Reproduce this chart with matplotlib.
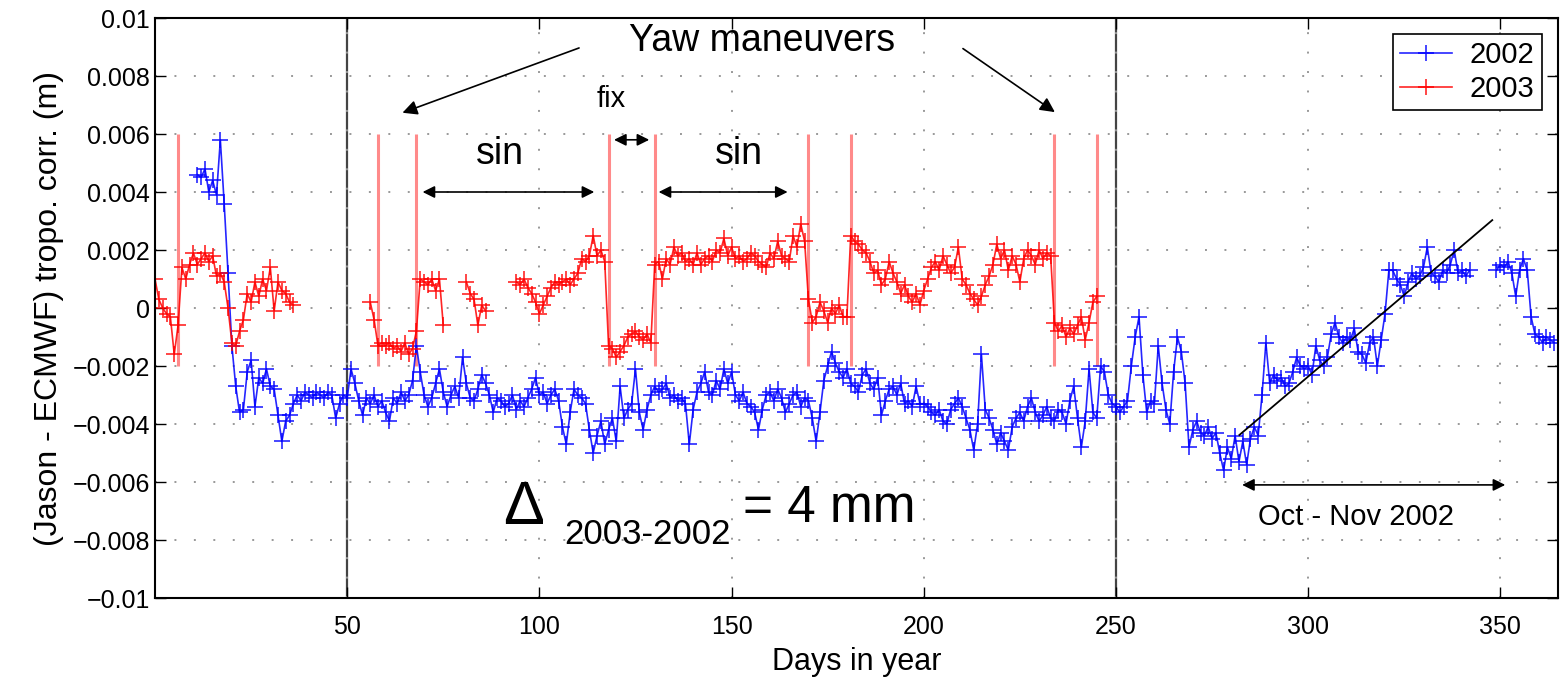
import numpy as np
import matplotlib.pyplot as plt

plt.rcParams['font.family'] = ['Liberation Sans', 'DejaVu Sans']

nan = np.nan

# 2002 series (days 11..364), values in mm
days_2002 = np.arange(11, 365)
vals_2002_mm = [
    4.6, 4.5, 4.8, 4.0, 4.4, 3.9, 5.8, 3.6, 1.2, -1.3,
    -2.7, -3.6, -3.5, -2.2, -1.8, -3.4, -2.4, -2.6, -2.1, -2.7,
    -2.8, -3.7, -4.6, -3.9, -3.7, -3.3, -3.0, -3.2, -2.9, -3.0,
    -3.1, -2.9, -3.0, -3.1, -2.9, -3.0, -3.8, -3.3, -3.0, -3.1,
    -2.1, -2.6, -3.2, -3.7, -3.1, -3.3, -3.0, -3.4, -3.2, -3.6,
    -3.9, -3.1, -3.3, -2.9, -3.2, -3.0, -2.5, -1.3, -2.2, -3.0,
    -3.4, -3.1, -2.6, -2.1, -2.9, -3.4, -3.0, -2.7, -3.1, -1.7,
    -2.6, -3.1, -3.2, -2.8, -2.3, -2.6, -3.0, -3.6, -3.1, -3.2,
    -3.4, -3.3, -3.0, -3.5, -3.2, -3.4, -3.1, -2.8, -2.4, -3.0,
    -2.9, -3.3, -3.0, -2.8, -3.2, -4.1, -4.7, -3.6, -2.8, -3.0,
    -3.1, -3.3, -4.2, -5.0, -4.4, -3.9, -4.7, -4.2, -3.8, -4.6,
    -2.7, -3.8, -3.5, -3.3, -2.1, -3.6, -4.2, -3.5, -3.0, -2.7,
    -2.9, -2.8, -2.6, -3.1, -3.0, -3.2, -3.1, -3.3, -4.7, -3.5,
    -2.9, -2.6, -2.2, -2.9, -3.0, -2.5, -2.8, -2.1, -2.6, -2.2,
    -3.0, -3.2, -2.9, -3.3, -3.4, -3.6, -4.2, -3.5, -3.0, -2.9,
    -3.2, -2.8, -3.1, -3.6, -3.3, -3.0, -2.9, -3.4, -3.1, -3.2,
    -3.8, -4.6, -3.6, -2.5, -2.0, -1.5, -1.9, -2.2, -2.4, -2.1,
    -2.6, -2.7, -2.9, -2.3, -2.1, -2.6, -2.8, -2.4, -3.7, -3.2,
    -2.8, -2.7, -3.0, -2.6, -3.3, -3.2, -3.4, -2.7, -3.3, -3.3,
    -3.4, -3.6, -3.7, -3.5, -3.9, -4.0, -3.5, -3.3, -3.1, -3.4,
    -3.8, -4.2, -4.9, -4.0, -1.6, -3.5, -3.8, -4.2, -4.7, -4.3,
    -4.6, -4.9, -4.1, -3.8, -3.6, -3.9, -3.4, -3.1, -3.6, -3.9,
    -3.7, -3.4, -3.8, -3.9, -3.5, -3.6, -4.0, -3.2, -2.7, -3.8,
    -4.8, -3.9, -2.1, -3.6, -3.8, -2.0, -2.2, -3.0, -3.3, -3.4,
    -3.6, -3.4, -3.2, -2.0, -1.0, -0.3, -2.3, -3.6, -3.2, -3.3,
    -1.3, -2.6, -3.5, -4.0, -2.2, -1.0, -1.5, -2.6, -4.8, -4.2,
    -3.9, -4.3, -4.4, -4.1, -4.5, -4.3, -5.0, -5.6, -4.8, -5.2,
    -4.4, -5.3, -4.6, -5.4, -4.5, -4.1, -4.4, -3.0, -1.2, -2.6,
    -2.3, -2.5, -2.4, -2.7, -2.6, -2.2, -1.7, -2.0, -2.1, -2.0,
    -2.3, -1.3, -1.8, -2.0, -1.7, -0.9, -0.5, -1.0, -1.2, -1.0,
    -1.1, -0.7, -1.5, -1.6, -1.9, -1.2, -1.0, -2.0, -1.1, -0.2,
    1.3, 1.3, 1.0, 0.8, 0.4, 0.9, 1.2, 1.0, 1.1, 1.4,
    2.1, 1.2, 1.1, 0.9, 1.3, 1.2, 1.5, 2.0, 1.2, 1.3,
    1.1, 1.3, nan, nan, nan, nan, nan, nan, 1.3, 1.5,
    1.4, 1.6, 1.2, 0.4, 1.3, 1.7, 1.3, -0.3, -0.9, -1.0,
    -1.2, -1.0, -1.1, -1.2,
]

# 2003 series (days 0..245), values in mm
days_2003 = np.arange(0, 246)
vals_2003_mm = [
    1.0, 0.3, 0.0, -0.2, -0.3, -1.6, -0.6, 1.4, 1.0, 1.5,
    1.9, 1.5, 1.7, 1.9, 1.6, 1.8, 1.1, 1.2, 0.9, 0.0,
    -1.2, -1.3, -0.8, -0.4, 0.5, 0.2, 0.9, 0.4, 1.0, 0.6,
    1.4, -0.1, 0.9, 0.6, 0.5, 0.2, 0.1, nan, nan, nan,
    nan, nan, nan, nan, nan, nan, nan, nan, nan, nan,
    nan, nan, nan, nan, nan, nan, 0.2, -0.4, -1.3, -1.2,
    -1.3, -1.2, -1.4, -1.3, -1.5, -1.2, -1.6, -1.4, -0.8, 1.0,
    0.9, 0.8, 1.0, 0.6, 1.0, -0.6, nan, nan, nan, nan,
    nan, 0.9, 0.5, 0.3, -0.6, 0.1, -0.1, nan, nan, nan,
    nan, nan, nan, nan, 0.9, 0.8, 1.0, 0.7, 0.5, 0.2,
    -0.2, 0.1, 0.4, 0.7, 0.9, 0.8, 0.9, 1.0, 0.8, 1.0,
    1.2, 1.7, 1.6, 1.8, 2.5, 1.8, 2.0, 1.6, -1.3, -1.4,
    -1.7, -1.5, -1.3, -1.0, -0.9, -0.8, -1.0, -1.1, -0.9, -1.2,
    1.5, 1.6, 1.0, 1.7, 1.5, 2.1, 1.8, 1.9, 1.6, 1.7,
    1.5, 1.9, 1.5, 1.7, 1.8, 1.6, 2.0, 1.9, 2.4, 1.8,
    2.1, 1.7, 1.8, 1.6, 1.7, 1.9, 1.8, 1.6, 1.5, 1.4,
    1.9, 1.7, 2.3, 1.8, 1.7, 1.6, 2.5, 2.1, 2.9, 2.3,
    0.3, -0.5, -0.3, 0.2, -0.1, -0.5, 0.0, -0.2, 0.1, -0.3,
    -0.3, 2.5, 2.3, 2.2, 2.0, 1.9, 1.6, 1.2, 1.3, 0.8,
    1.0, 1.6, 1.2, 0.9, 0.5, 0.8, 0.4, 0.2, 0.5, 0.1,
    0.6, 1.0, 1.4, 1.6, 1.3, 1.8, 1.5, 1.2, 1.4, 2.1,
    1.0, 0.8, 0.5, 0.3, 0.1, 0.4, 0.8, 1.1, 1.5, 2.2,
    1.7, 2.0, 1.3, 1.8, 1.5, 0.9, 1.7, 2.0, 1.8, 1.5,
    2.0, 1.7, 1.9, 1.8, -0.5, -0.8, -0.6, -1.0, -0.7, -0.9,
    -0.6, -0.3, -1.1, -0.5, 0.2, 0.4,
]

# yaw maneuver days in 2003 (drawn as vertical red lines)
yaw_days = [6, 58, 68, 118, 130, 170, 181, 234, 245]
year_marks = [50, 250]

y_ticks = [-0.01, -0.008, -0.006, -0.004, -0.002, 0, 0.002, 0.004, 0.006, 0.008, 0.01]
y_ticklabels = ['\u22120.01', '\u22120.008', '\u22120.006', '\u22120.004', '\u22120.002',
                '0', '0.002', '0.004', '0.006', '0.008', '0.01']
x_ticks = [50, 100, 150, 200, 250, 300, 350]

vals_2002 = np.array(vals_2002_mm) * 1e-3
vals_2003 = np.array(vals_2003_mm) * 1e-3

fig = plt.figure(figsize=(15.63, 6.86), dpi=100)
ax = fig.add_axes([155 / 1563, 88 / 686, 1403 / 1563, 580 / 686])

ax.plot(days_2002, vals_2002, color='#0000ff', lw=1.2, marker='+', ms=12, mew=1.2,
        label='2002', alpha=0.85)
ax.plot(days_2003, vals_2003, color='#ff0000', lw=1.2, marker='+', ms=12, mew=1.2,
        label='2003', alpha=0.85)
ax.vlines(yaw_days, -0.002, 0.006, color='#ff8a8a', lw=2.2, zorder=1)
for d in year_marks:
    ax.axvline(d, color='#444444', lw=1.6, zorder=0.5)

ax.set_xlim(0, 365)
ax.set_ylim(-0.01, 0.01)
ax.set_xticks(x_ticks)
ax.set_yticks(y_ticks)
ax.set_yticklabels(y_ticklabels)
ax.tick_params(direction='in', top=True, right=True, length=8, width=1, labelsize=18)
ax.tick_params(axis='x', pad=12)
ax.grid(True, linestyle=(0, (1, 9)), color='#999999', lw=1.4)
for s in ax.spines.values():
    s.set_linewidth(1.5)

ax.set_xlabel('Days in year', fontsize=22, labelpad=6)
ax.set_ylabel('(Jason - ECMWF) tropo. corr. (m)', fontsize=23, labelpad=6)

leg = ax.legend(loc='upper right', fontsize=21, fancybox=False, edgecolor='black',
                framealpha=1, borderaxespad=0.55, handlelength=1.8, handletextpad=0.6,
                labelspacing=0.2, borderpad=0.25)
leg.get_frame().set_linewidth(1.2)

# annotations
ax.text(158, 0.0092, 'Yaw maneuvers', fontsize=27, ha='center', va='center')
ax.annotate('', xy=(63.7, 0.0067), xytext=(111, 0.0090),
            arrowprops=dict(arrowstyle='-|>', color='black', lw=1.2, mutation_scale=22))
ax.annotate('', xy=(234.7, 0.0067), xytext=(209.6, 0.0090),
            arrowprops=dict(arrowstyle='-|>', color='black', lw=1.2, mutation_scale=22))

ax.text(118.6, 0.0072, 'fix', fontsize=21, ha='center', va='center')
ax.annotate('', xy=(118.7, 0.0058), xytext=(129.3, 0.0058),
            arrowprops=dict(arrowstyle='<|-|>', color='black', lw=1.2, mutation_scale=18))

ax.text(89.6, 0.0053, 'sin', fontsize=27, ha='center', va='center')
ax.annotate('', xy=(68.9, 0.0040), xytext=(115, 0.0040),
            arrowprops=dict(arrowstyle='<|-|>', color='black', lw=1.2, mutation_scale=18))
ax.text(151.8, 0.0053, 'sin', fontsize=27, ha='center', va='center')
ax.annotate('', xy=(130.3, 0.0040), xytext=(165.3, 0.0040),
            arrowprops=dict(arrowstyle='<|-|>', color='black', lw=1.2, mutation_scale=18))

ax.text(90.5, -0.0069, '\u0394', fontsize=44, ha='left', va='center')
ax.text(106.5, -0.0078, '2003-2002', fontsize=25, ha='left', va='center')
ax.text(153, -0.0069, '= 4 mm', fontsize=37, ha='left', va='center')

ax.plot([282.1, 347.9], [-0.00438, 0.00303], color='black', lw=1.3)
ax.annotate('', xy=(282.1, -0.0061), xytext=(352, -0.0061),
            arrowprops=dict(arrowstyle='<|-|>', color='black', lw=1.2, mutation_scale=18))
ax.text(312.4, -0.0072, 'Oct - Nov 2002', fontsize=21, ha='center', va='center')

fig.savefig('out.png', dpi=100)
